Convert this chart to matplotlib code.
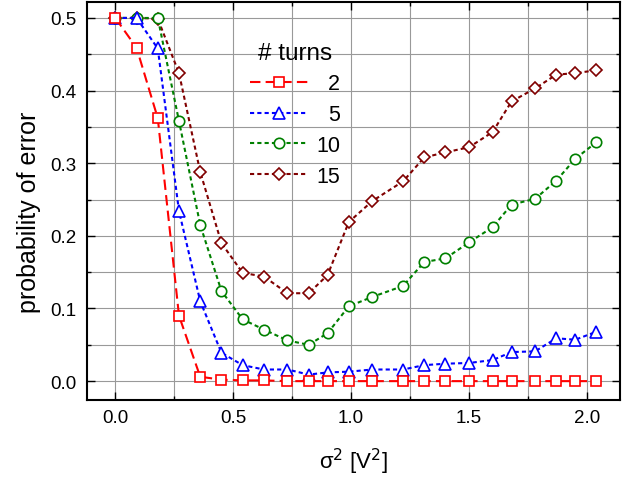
import matplotlib
matplotlib.use("Agg")
import matplotlib.pyplot as plt
from matplotlib.ticker import MultipleLocator
from matplotlib.transforms import Affine2D

plt.rcParams["font.family"] = ["Liberation Sans", "DejaVu Sans"]

# ── Data ──────────────────────────────────────────────────
sigma2 = [0.0, 0.09, 0.18, 0.27, 0.36, 0.45, 0.54, 0.63, 0.73, 0.82, 0.90, 0.99,
          1.09, 1.22, 1.31, 1.40, 1.50, 1.60, 1.68, 1.78, 1.87, 1.95, 2.04]

p_2 = [0.5, 0.459, 0.362, 0.090, 0.006, 0.002, 0.001, 0.001, 0.0, 0.0, 0.0, 0.0,
       0.0, 0.0, 0.0, 0.0, 0.0, 0.0, 0.0, 0.0, 0.0, 0.0, 0.0]
p_5 = [0.5, 0.5, 0.458, 0.234, 0.110, 0.039, 0.022, 0.016, 0.016, 0.009, 0.012, 0.013,
       0.016, 0.016, 0.022, 0.024, 0.025, 0.029, 0.040, 0.041, 0.059, 0.057, 0.068]
p_10 = [0.5, 0.5, 0.5, 0.358, 0.215, 0.124, 0.085, 0.071, 0.056, 0.050, 0.066, 0.103,
        0.116, 0.131, 0.164, 0.169, 0.191, 0.212, 0.243, 0.251, 0.276, 0.306, 0.329]
p_15 = [0.5, 0.5, 0.499, 0.424, 0.288, 0.190, 0.149, 0.144, 0.121, 0.121, 0.146, 0.219,
        0.248, 0.275, 0.308, 0.315, 0.322, 0.343, 0.385, 0.403, 0.422, 0.424, 0.428]

turns = ["2", "5", "10", "15"]

fig = plt.figure(figsize=(6.32, 4.81), dpi=100)
ax = fig.add_axes([0.1377, 0.1663, 0.8433, 0.8275])

mk = dict(markerfacecolor="white", markeredgewidth=1.2, lw=1.5)
short = (2.0, 1.5)
ax.plot(sigma2, p_15, color="#800000", marker="D", ms=6.3, dashes=short,
        label=turns[3], zorder=3, **mk)
ax.plot(sigma2, p_10, color="#008000", marker="o", ms=7.5, dashes=short,
        label=turns[2], zorder=4, **mk)
ax.plot(sigma2, p_5, color="#0000ff", marker="^", ms=8, dashes=short,
        label=turns[1], zorder=5, **mk)
ax.plot(sigma2, p_2, color="#ff0000", marker="s", ms=7, dashes=(5, 2.5),
        label=turns[0], zorder=6, **mk)

ax.set_xlim(-0.12, 2.14)
ax.set_ylim(-0.026, 0.522)
ax.xaxis.set_major_locator(MultipleLocator(0.5))
ax.xaxis.set_minor_locator(MultipleLocator(0.25))
ax.yaxis.set_major_locator(MultipleLocator(0.1))
ax.yaxis.set_minor_locator(MultipleLocator(0.05))
ax.tick_params(which="both", direction="in", top=True, right=True, labelsize=13.5, width=1)
ax.tick_params(which="major", length=6)
ax.tick_params(which="minor", length=3)
ax.tick_params(axis="x", which="major", pad=6.8)
ax.tick_params(axis="y", which="major", pad=7.5)
ax.grid(True, which="both", color="0.6", lw=0.8)
for s in ax.spines.values():
    s.set_linewidth(1.5)

ax.set_xlabel(r"σ$^2$ [V$^2$]", fontsize=16, labelpad=14)
ax.set_ylabel("probability of error", fontsize=18)
ax.yaxis.set_label_coords(-0.087, 0.4736)

handles, labels = ax.get_legend_handles_labels()
leg = ax.legend(handles[::-1], labels[::-1], title="# turns", loc="upper left",
                bbox_to_anchor=(0.3058, 0.900), frameon=False, numpoints=1,
                fontsize=15.5, title_fontsize=17.5, handlelength=2.7,
                handletextpad=0.37, labelspacing=0.45, borderpad=0, borderaxespad=0)

# right-align the legend numbers
fig.canvas.draw()
r = fig.canvas.get_renderer()
ws = [t.get_window_extent(r).width for t in leg.get_texts()]
for t, wi in zip(leg.get_texts(), ws):
    t.set_transform(t.get_transform() + Affine2D().translate(max(ws) - wi, 0))

fig.savefig("out.png", dpi=100)
